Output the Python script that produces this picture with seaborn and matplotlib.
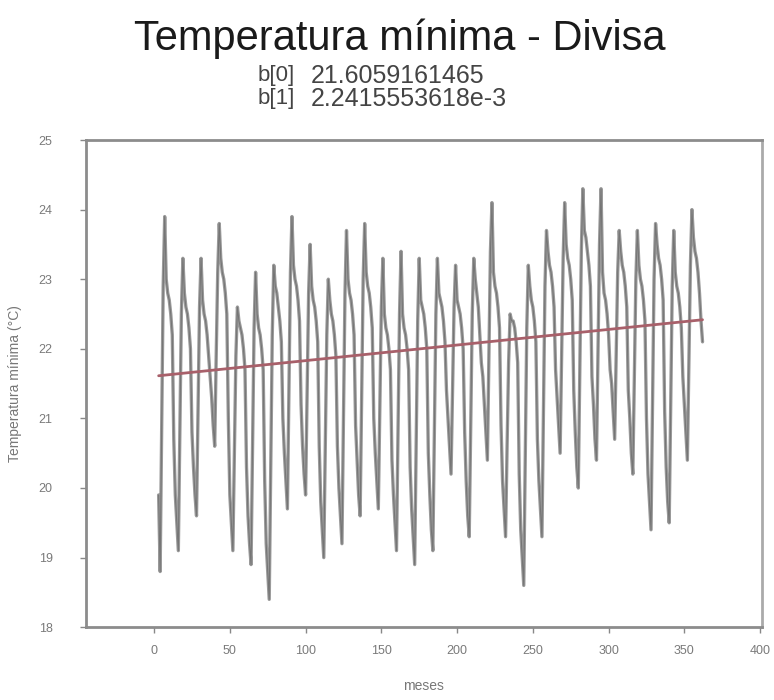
import numpy as np
import pandas as pd
import matplotlib
matplotlib.use("Agg")
import matplotlib.pyplot as plt
import seaborn as sns

# ---- data ----
first_value = [19.9]
year_values = [
    [18.8, 20.8, 22.9, 23.9, 23.0, 22.8, 22.7, 22.5, 22.2, 20.7, 19.9, 19.5],
    [19.1, 20.8, 22.5, 23.3, 22.8, 22.6, 22.5, 22.3, 22.0, 20.8, 20.3, 19.9],
    [19.6, 21.1, 22.6, 23.3, 22.7, 22.5, 22.4, 22.2, 21.9, 21.6, 21.3, 20.9],
    [20.6, 21.9, 23.1, 23.8, 23.3, 23.1, 23.0, 22.8, 22.5, 21.0, 19.9, 19.5],
    [19.1, 20.5, 21.9, 22.6, 22.4, 22.3, 22.2, 22.0, 21.7, 20.3, 19.6, 19.2],
    [18.9, 20.6, 22.3, 23.1, 22.5, 22.3, 22.2, 22.0, 21.7, 20.1, 19.2, 18.8],
    [18.4, 20.3, 22.2, 23.2, 22.9, 22.8, 22.6, 22.4, 22.1, 21.0, 20.5, 20.1],
    [19.7, 21.4, 23.1, 23.9, 23.2, 23.0, 22.9, 22.7, 22.4, 21.2, 20.6, 20.2],
    [19.9, 21.3, 22.8, 23.5, 22.9, 22.7, 22.6, 22.4, 22.1, 20.6, 19.8, 19.4],
    [19.0, 20.6, 22.2, 23.0, 22.7, 22.5, 22.4, 22.2, 21.9, 20.6, 20.0, 19.6],
    [19.2, 21.0, 22.8, 23.7, 23.0, 22.8, 22.7, 22.5, 22.2, 20.9, 20.4, 19.9],
    [19.6, 21.3, 23.0, 23.8, 23.1, 22.9, 22.8, 22.6, 22.3, 21.0, 20.5, 20.1],
    [19.7, 21.1, 22.6, 23.3, 22.5, 22.3, 22.2, 22.0, 21.7, 20.4, 19.9, 19.5],
    [19.1, 20.8, 22.5, 23.4, 22.5, 22.3, 22.2, 22.0, 21.7, 20.3, 19.7, 19.3],
    [18.9, 20.7, 22.4, 23.3, 22.7, 22.6, 22.5, 22.3, 22.0, 20.5, 19.9, 19.4],
    [19.1, 20.8, 22.5, 23.3, 22.8, 22.7, 22.6, 22.4, 22.1, 21.4, 21.0, 20.6],
    [20.2, 21.4, 22.6, 23.2, 22.7, 22.6, 22.5, 22.3, 22.0, 20.8, 20.1, 19.6],
    [19.3, 20.9, 22.5, 23.3, 23.0, 22.8, 22.6, 22.2, 21.8, 21.6, 21.2, 20.8],
    [20.4, 21.9, 23.4, 24.1, 23.1, 22.9, 22.8, 22.6, 22.3, 20.9, 20.1, 19.7],
    [19.3, 20.6, 21.8, 22.5, 22.4, 22.4, 22.3, 22.1, 21.8, 20.2, 19.4, 19.0],
    [18.6, 20.4, 22.3, 23.2, 22.9, 22.7, 22.6, 22.4, 22.1, 20.7, 20.1, 19.7],
    [19.3, 21.1, 22.9, 23.7, 23.4, 23.2, 23.1, 22.9, 22.6, 21.7, 21.3, 20.9],
    [20.5, 21.9, 23.3, 24.1, 23.5, 23.3, 23.2, 23.0, 22.7, 21.4, 20.8, 20.3],
    [20.0, 21.7, 23.4, 24.3, 23.7, 23.6, 23.4, 23.2, 22.9, 21.6, 21.2, 20.7],
    [20.4, 21.9, 23.5, 24.3, 23.1, 22.8, 22.7, 22.5, 22.2, 21.7, 21.5, 21.1],
    [20.7, 21.9, 23.1, 23.7, 23.4, 23.2, 23.1, 22.9, 22.6, 21.4, 21.0, 20.5],
    [20.2, 21.6, 23.0, 23.7, 23.2, 23.0, 22.9, 22.7, 22.4, 21.0, 20.2, 19.8],
    [19.4, 21.2, 23.0, 23.8, 23.5, 23.3, 23.2, 23.0, 22.7, 21.1, 20.3, 19.8],
    [19.5, 21.2, 22.9, 23.7, 23.1, 22.9, 22.8, 22.6, 22.3, 21.6, 21.2, 20.8],
    [20.4, 21.8, 23.2, 24.0, 23.6, 23.4, 23.3, 23.1, 22.8, 22.4, 22.1],
]
first_month = 3
b0 = 21.6059161465
b1 = 2.2415553618e-3
x_ticks = [0, 50, 100, 150, 200, 250, 300, 350, 400]
y_ticks = [18, 19, 20, 21, 22, 23, 24, 25]

temps = first_value + [v for yr in year_values for v in yr]
meses = np.arange(first_month, first_month + len(temps))
df = pd.DataFrame({"meses": meses, "temp": temps})
fit = pd.DataFrame({"meses": meses, "temp": b0 + b1 * meses})

sns.set_theme(style="white")
plt.rcParams["font.family"] = ["Liberation Sans", "DejaVu Sans"]

fig = plt.figure(figsize=(7.74, 7.0), dpi=100)
ax = fig.add_axes([0.111, 0.104, 0.873, 0.696])

sns.lineplot(data=df, x="meses", y="temp", ax=ax, color="#9a9a9a", lw=2.4)
sns.lineplot(data=df, x="meses", y="temp", ax=ax, color="#222222", lw=0.8, alpha=0.3)
sns.lineplot(data=fit, x="meses", y="temp", ax=ax, color="#a8606a", lw=2.0)

ax.set_xlim(-45, 401)
ax.set_ylim(18, 25)
ax.set_xticks(x_ticks)
ax.set_yticks(y_ticks)
ax.set_xticklabels([str(t) for t in x_ticks])
ax.set_yticklabels([str(t) for t in y_ticks])
ax.tick_params(axis="both", which="both", direction="out", length=4, width=1,
               color="#888888", labelcolor="#7a7a7a", labelsize=9,
               bottom=True, left=True)
ax.tick_params(axis="y", pad=20)
ax.tick_params(axis="x", pad=9)
for s in ax.spines.values():
    s.set_color("#8c8c8c")
    s.set_linewidth(2.0)
ax.spines["right"].set_color("#aaaaaa")
ax.set_xlabel("meses", color="#777777", fontsize=10, labelpad=16)
ax.set_ylabel("Temperatura mínima (°C)", color="#777777", fontsize=10, labelpad=12)

fig.text(0.517, 0.944, "Temperatura mínima - Divisa", ha="center", va="center",
         fontsize=30, color="#1a1a1a")
fig.text(0.333, 0.892, "b[0]", ha="left", va="center", fontsize=16, color="#444444")
fig.text(0.401, 0.892, "21.6059161465", ha="left", va="center", fontsize=18, color="#444444")
fig.text(0.333, 0.859, "b[1]", ha="left", va="center", fontsize=16, color="#444444")
fig.text(0.401, 0.859, "2.2415553618e-3", ha="left", va="center", fontsize=18, color="#444444")

fig.savefig("out.png", dpi=100, facecolor="white")
